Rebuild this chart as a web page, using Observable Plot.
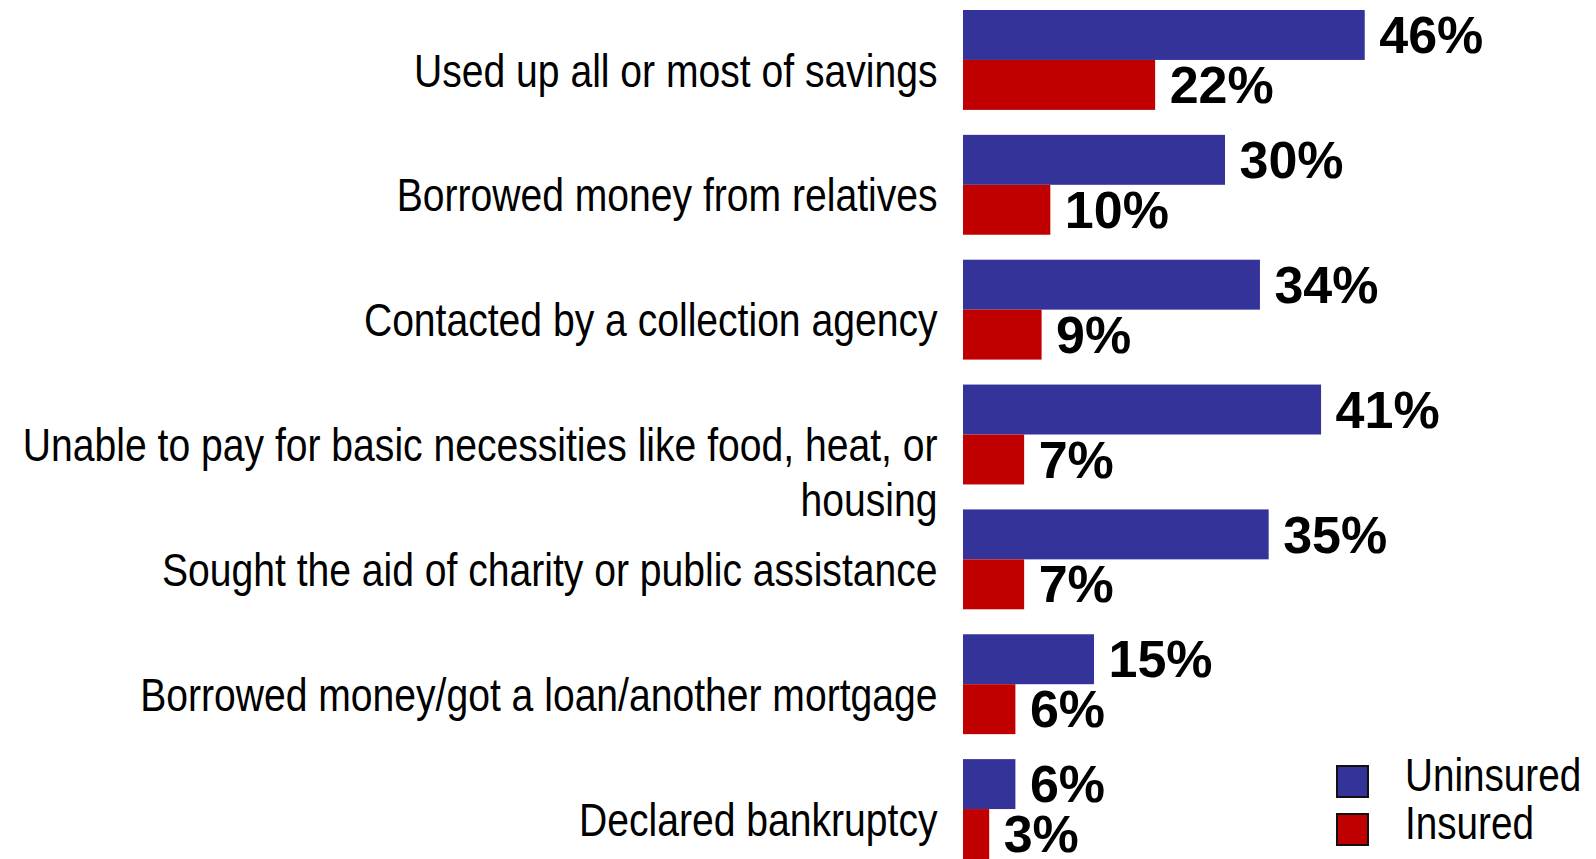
<!DOCTYPE html>
<html>
<head>
<meta charset="utf-8">
<script src="https://cdn.jsdelivr.net/npm/d3@7"></script>
<script src="https://cdn.jsdelivr.net/npm/@observablehq/plot@0.6"></script>
<style>
  html, body { margin: 0; padding: 0; background: #fff; overflow: hidden; }
  #wrap { position: relative; width: 1596px; height: 859px; }
  .lg-sw { position: absolute; width: 33px; height: 33px; box-sizing: border-box; border: 2px solid #111; }
  .lg-tx { position: absolute; font-family: "Liberation Sans", Arial, sans-serif; font-size: 46px; line-height: 46px; color: #000; white-space: nowrap; transform: scaleX(0.84); transform-origin: 0 50%; }
</style>
</head>
<body>
<div id="wrap"></div>
<script>
const categories = [
  "Used up all or most of savings",
  "Borrowed money from relatives",
  "Contacted by a collection agency",
  "Unable to pay for basic necessities like food, heat, or\nhousing",
  "Sought the aid of charity or public assistance",
  "Borrowed money/got a loan/another mortgage",
  "Declared bankruptcy"
];
const series = ["Uninsured", "Insured"];
const uninsured = [46, 30, 34, 41, 35, 15, 6];
const insured = [22, 10, 9, 7, 7, 6, 3];
const colors = ["#333399", "#C00000"];

const values = [uninsured, insured];
const data = categories.flatMap((c, i) =>
  series.map((s, j) => ({category: c, series: s, value: values[j][i]}))
);

const sans = '"Liberation Sans", Arial, sans-serif';

const chart = Plot.plot({
  width: 1596,
  height: 859,
  marginLeft: 963,
  marginRight: 109,
  marginTop: 10,
  marginBottom: 0,
  style: {background: "#fff"},
  x: {domain: [0, 60], axis: null},
  y: {domain: series, padding: 0, round: false, axis: null},
  fy: {domain: categories, paddingInner: 0.2, paddingOuter: 0, round: false, axis: null},
  color: {domain: series, range: colors},
  marks: [
    Plot.barX(data, {fy: "category", y: "series", x: "value", fill: "series"}),
    Plot.text(data, {
      fy: "category", y: "series", x: "value",
      text: d => d.value + "%",
      dx: 14, dy: 1,
      textAnchor: "start",
      fontSize: 52, fontWeight: "bold",
      fontFamily: sans,
      fill: "#000"
    }),
    Plot.text(categories, {
      fy: d => d,
      text: d => d,
      frameAnchor: "left",
      textAnchor: "end",
      lineAnchor: "top",
      dx: -26, dy: -13,
      lineHeight: 1.2,
      fontSize: 46,
      fontFamily: sans,
      fill: "#000"
    })
  ]
});

// Narrow the category labels horizontally (condensed look of the original)
const labelSet = new Set(categories.map(c => c.replace(/\n/g, "")));
chart.querySelectorAll("text").forEach(el => {
  if (!labelSet.has(el.textContent.replace(/\n/g, ""))) return;
  const xa = el.getAttribute("x");
  const x = xa != null && isFinite(+xa) ? +xa : 0;
  if (x !== 0) el.removeAttribute("x");
  const t = el.getAttribute("transform") || "";
  el.setAttribute("transform", `${t} translate(${x},0) scale(0.85,1)`.trim());
});

const wrap = document.getElementById("wrap");
wrap.appendChild(chart);

// Legend overlay (bottom right)
series.forEach((s, i) => {
  const sw = document.createElement("div");
  sw.className = "lg-sw";
  sw.style.left = "1336px";
  sw.style.top = (765 + i * 48) + "px";
  sw.style.background = colors[i];
  wrap.appendChild(sw);
  const tx = document.createElement("div");
  tx.className = "lg-tx";
  tx.style.left = "1405px";
  tx.style.top = (752 + i * 48) + "px";
  tx.textContent = s;
  wrap.appendChild(tx);
});
</script>
</body>
</html>
